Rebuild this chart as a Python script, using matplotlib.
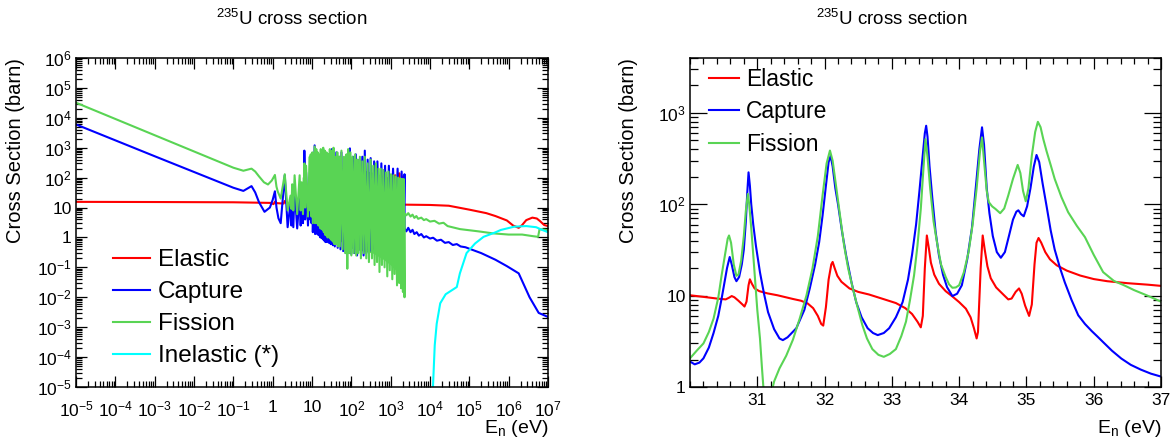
import numpy as np
import matplotlib
matplotlib.use("Agg")
import matplotlib.pyplot as plt
from matplotlib.ticker import LogLocator, FuncFormatter, NullFormatter, MultipleLocator, FixedLocator

plt.rcParams["font.family"] = ["Liberation Sans", "DejaVu Sans"]
plt.rcParams["mathtext.fontset"] = "custom"
plt.rcParams["mathtext.rm"] = "Liberation Sans"
plt.rcParams["mathtext.it"] = "Liberation Sans:italic"
plt.rcParams["mathtext.bf"] = "Liberation Sans:bold"

RED, BLUE, GREEN, CYAN = "#ff0000", "#0000ff", "#59d454", "#00ffff"

# ---- full range, (E [eV], sigma [barn]) ----
elastic_wide = [
    (1e-5, 15.5), (1e-3, 15.3), (0.1, 15.0), (0.9, 14.3), (1.05, 13.0), (1.14, 15.5),
    (1.3, 14.0), (1.9, 13.6), (2.03, 16.5), (2.3, 13.4), (3.4, 13.2), (3.61, 15.5),
    (3.9, 13.1), (6.2, 12.8), (6.39, 19.0), (6.8, 12.7), (9.1, 12.6), (9.28, 17.0),
    (9.6, 12.5), (30, 12.5), (100, 12.6), (300, 12.8), (1000, 12.8), (1250, 12.5),
    (1300, 120), (1350, 12.5), (1600, 12.5), (1650, 140), (1700, 12.5), (2000, 12.5),
    (2050, 110), (2100, 12.5), (2250, 12.5), (1e4, 12.2), (3e4, 11.5), (1e5, 8.5),
    (2.7e5, 6.5), (4.6e5, 5.2), (9e5, 3.7), (1.3e6, 2.5), (1.8e6, 2.1), (2.2e6, 2.6),
    (2.8e6, 3.8), (4e6, 4.6), (5.2e6, 4.3), (6.3e6, 3.5), (8e6, 2.6), (1e7, 2.4),
]

capture_wide = [
    # thermal + first resonances
    (1e-5, 6000), (1e-3, 520), (0.1, 46), (0.18, 36), (0.29, 52), (0.36, 32),
    (0.45, 15), (0.62, 7.2), (0.85, 10), (1.0, 18), (1.14, 35), (1.25, 10),
    (1.4, 4.4), (1.6, 3.0),
    # resolved resonances
    (2.03, 120), (2.4, 2.2), (2.84, 14), (3.0, 2.5), (3.14, 34), (3.35, 2.2),
    (3.61, 40), (4.2, 2.0), (4.85, 25), (5.15, 2.5), (5.45, 20), (5.9, 3.0),
    (6.21, 40), (6.3, 8.0), (6.39, 800), (6.7, 4.0), (7.08, 150), (7.9, 2.5),
    (8.78, 65), (9.0, 4.0), (9.28, 300), (9.7, 3.0),
    # dense resonance region
    (10.18, 100), (10.5, 1.5), (11.66, 1200), (12.0, 1.3), (12.39, 300), (12.6, 1.6),
    (12.85, 400), (13.1, 1.4), (13.3, 200), (13.6, 1.3), (14.0, 300), (14.6, 1.2),
    (15.4, 150), (15.8, 1.1), (16.1, 300), (16.4, 1.0), (16.7, 500), (17.3, 1.0),
    (18.05, 300), (18.6, 0.9), (19.3, 800), (20.0, 0.8), (20.6, 200), (20.9, 0.8),
    (21.1, 600), (22, 0.7), (23.4, 400), (24.3, 0.7), (26.5, 300), (27.4, 0.65),
    (28.4, 500), (30, 0.6), (32.1, 900), (34, 0.55), (35.2, 600), (38, 0.5),
    (41.6, 700), (45, 0.45), (49, 500), (53, 0.4), (56, 700), (62, 0.35),
    (66, 400), (72, 0.3), (80, 600), (88, 0.3), (92, 950), (100, 0.28),
    (110, 500), (120, 0.3), (130, 600), (140, 0.25), (160, 400), (175, 0.3),
    (190, 500), (205, 0.25), (220, 800), (240, 0.3), (260, 400), (290, 0.35),
    (310, 450), (340, 0.4), (380, 350), (420, 0.5), (460, 350), (520, 0.6),
    (580, 300), (650, 0.7), (720, 250), (800, 0.8), (900, 250), (1000, 0.9),
    (1150, 200), (1300, 1.0), (1500, 200), (1700, 1.0), (1900, 160), (2100, 1.1),
    (2250, 130),
    # unresolved + fast
    (2260, 2.0), (2500, 1.6), (2800, 2.1), (3200, 1.5), (3600, 1.8), (4000, 1.3),
    (4600, 1.5), (5200, 1.15), (6000, 1.3), (7000, 1.0), (8000, 1.1), (1e4, 0.92),
    (1.2e4, 0.98), (1.5e4, 0.78), (1.9e4, 0.84), (2.4e4, 0.66), (3e4, 0.7),
    (3.8e4, 0.56), (4.8e4, 0.6), (6e4, 0.5), (8e4, 0.47), (1e5, 0.42), (2e5, 0.3),
    (4.6e5, 0.18), (9e5, 0.11), (1.8e6, 0.063), (3.4e6, 0.01), (5.8e6, 0.003),
    (1e7, 0.0022),
]

fission_wide = [
    (1e-5, 32000), (1e-3, 2630), (0.1, 215), (0.18, 170), (0.29, 200), (0.36, 160),
    (0.45, 110), (0.6, 70), (0.76, 59), (0.95, 80), (1.14, 123), (1.25, 50),
    (1.35, 34), (1.6, 20),
    (2.03, 130), (2.4, 8), (2.84, 25), (3.0, 9), (3.14, 60), (3.35, 8),
    (3.61, 120), (4.2, 6), (4.85, 120), (5.15, 8), (5.45, 70), (5.9, 6),
    (6.21, 100), (6.3, 20), (6.39, 300), (6.7, 10), (7.08, 250), (7.9, 5),
    (8.78, 500), (9.0, 8), (9.28, 600), (9.7, 5),
    (10.18, 700), (10.5, 3), (11.66, 1100), (12.0, 3), (12.39, 500), (12.6, 4),
    (12.85, 900), (13.1, 3), (13.3, 400), (13.6, 3), (14.0, 700), (14.6, 2.5),
    (15.4, 400), (15.8, 2.5), (16.1, 600), (16.4, 2), (16.7, 900), (17.3, 2),
    (18.05, 600), (18.6, 1.8), (19.3, 1000), (20.0, 1.5), (20.6, 500), (20.9, 1.5),
    (21.1, 800), (22, 1.2), (22.9, 400), (23.1, 1.3), (23.4, 700), (24, 1.1),
    (24.3, 500), (25, 1), (26.5, 600), (27.4, 1), (28.4, 900), (29.6, 0.9),
    (30.9, 500), (31.6, 0.8), (32.1, 800), (33, 0.8), (34.4, 700), (35, 0.7),
    (35.2, 1000), (37, 0.6), (39.4, 500), (41, 0.6), (44, 700), (46, 0.5),
    (49, 500), (51, 0.5), (56, 800), (60, 0.4), (65, 500), (70, 0.3),
    (75, 600), (79, 0.09), (83, 900), (88, 0.3), (95, 700), (100, 0.25),
    (108, 500), (115, 0.3), (125, 600), (133, 0.25), (142, 400), (150, 0.3),
    (165, 500), (175, 0.2), (190, 350), (205, 0.3), (220, 500), (240, 0.2),
    (260, 300), (280, 0.15), (310, 400), (335, 0.2), (360, 250), (390, 0.12),
    (420, 300), (450, 0.15), (490, 200), (520, 0.07), (560, 200), (600, 0.12),
    (650, 180), (700, 0.1), (760, 150), (820, 0.05), (880, 160), (950, 0.08),
    (1020, 130), (1100, 0.04), (1180, 120), (1260, 0.06), (1350, 110), (1450, 0.025),
    (1550, 100), (1650, 0.03), (1750, 95), (1850, 0.02), (1950, 90), (2050, 0.015),
    (2150, 90), (2250, 0.01),
    (2260, 6.4), (2500, 5.5), (2800, 6.5), (3200, 5.0), (3600, 5.8), (4000, 4.5),
    (4500, 5.2), (5000, 4.2), (6000, 4.6), (7000, 3.8), (8000, 4.1), (1e4, 3.4),
    (1.3e4, 3.6), (1.7e4, 2.9), (2.2e4, 3.1), (2.8e4, 2.4), (5.8e4, 1.9),
    (1.7e5, 1.6), (4e5, 1.37), (1e6, 1.25), (2.2e6, 1.25), (4.2e6, 1.1),
    (5.6e6, 1.05), (6.1e6, 1.9), (1e7, 1.75),
]

# solid part of the fission resonance forest
fission_core_E = [10, 15, 20, 30, 50, 80, 120, 200, 350, 600, 1000, 1500, 2250]
fission_core_hi = [100, 150, 200, 200, 220, 220, 200, 180, 150, 120, 100, 95, 90]
fission_core_lo = [5, 3, 2, 1.2, 0.8, 0.5, 0.4, 0.35, 0.3, 0.2, 0.12, 0.07, 0.05]

inelastic_wide = [
    (1.17e4, 6e-6), (1.32e4, 2.5e-4), (1.48e4, 1.3e-3), (1.82e4, 6.3e-3), (2.5e4, 0.0126),
    (4.8e4, 0.022), (5.75e4, 0.063), (8.5e4, 0.3), (1.4e5, 0.63), (2.3e5, 1.05),
    (4.6e5, 1.48), (6.3e5, 1.78), (1.4e6, 2.3), (2.8e6, 2.4), (5e6, 2.2),
    (7e6, 1.8), (1e7, 1.5),
]

# ---- 30-37 eV zoom ----
elastic_zoom = [
    (30.0, 10.1), (30.2, 9.7), (30.4, 9.3), (30.53, 9.1), (30.58, 9.5), (30.62, 9.9),
    (30.66, 9.6), (30.72, 8.8), (30.78, 8.0), (30.81, 7.6), (30.84, 8.6), (30.87, 13),
    (30.89, 15.1), (30.92, 13.5), (30.96, 12.0), (31.03, 11.2), (31.15, 10.6), (31.3, 10.1),
    (31.53, 9.2), (31.65, 8.8), (31.75, 8.2), (31.83, 7.3), (31.9, 6.0), (31.95, 4.9),
    (31.98, 4.7), (32.02, 7.5), (32.06, 15), (32.1, 22), (32.12, 23.4), (32.15, 20),
    (32.19, 16.5), (32.25, 14.2), (32.37, 12), (32.5, 11), (32.66, 10.3), (32.85, 9.3),
    (33.06, 8.3), (33.2, 7.3), (33.3, 6.3), (33.38, 5.2), (33.43, 4.5), (33.46, 6),
    (33.49, 20), (33.52, 45.6), (33.55, 33), (33.58, 23), (33.63, 17), (33.7, 13.5),
    (33.8, 11.2), (33.9, 9.8), (34.0, 8.5), (34.1, 7.2), (34.17, 5.8), (34.22, 4.4),
    (34.26, 3.4), (34.28, 4), (34.32, 20), (34.35, 45.6), (34.38, 32), (34.42, 21),
    (34.47, 15.5), (34.55, 12.3), (34.65, 10.4), (34.73, 9.1), (34.78, 9.3), (34.84, 11),
    (34.89, 12), (34.93, 10.5), (34.98, 7.8), (35.04, 6.0), (35.08, 8), (35.12, 22),
    (35.15, 38), (35.18, 42.8), (35.22, 38), (35.28, 30), (35.35, 25), (35.45, 21.5),
    (35.6, 18.8), (35.8, 16.6), (36.0, 15.2), (36.2, 14.4), (36.5, 13.7), (36.8, 13.2),
    (37.0, 12.8),
]

capture_zoom = [
    (30.0, 1.9), (30.07, 1.77), (30.14, 1.85), (30.2, 2.06), (30.28, 2.7), (30.35, 3.9),
    (30.42, 6), (30.47, 9.3), (30.52, 15), (30.55, 20), (30.59, 26.5), (30.62, 22),
    (30.66, 16), (30.69, 14.4), (30.73, 16), (30.77, 22), (30.8, 32), (30.83, 65),
    (30.85, 130), (30.87, 224), (30.89, 160), (30.91, 100), (30.94, 60), (30.98, 35),
    (31.04, 18), (31.1, 10.5), (31.16, 6.6), (31.25, 4.3), (31.33, 3.4), (31.38, 3.26),
    (31.45, 3.5), (31.58, 4.4), (31.7, 7), (31.78, 12), (31.86, 22), (31.92, 38.7),
    (31.97, 75), (32.02, 160), (32.06, 290), (32.09, 340), (32.12, 260), (32.16, 150),
    (32.2, 100), (32.26, 50), (32.32, 27.6), (32.4, 14), (32.47, 8.5), (32.55, 5.8),
    (32.64, 4.4), (32.72, 3.9), (32.79, 3.7), (32.88, 3.9), (32.96, 4.4), (33.06, 5.8),
    (33.16, 8.5), (33.24, 15), (33.3, 28), (33.36, 60), (33.41, 140), (33.46, 350),
    (33.49, 600), (33.51, 725), (33.53, 550), (33.56, 260), (33.6, 120), (33.65, 50),
    (33.7, 27.6), (33.76, 17), (33.82, 12.4), (33.9, 9.9), (33.97, 10.5), (34.04, 13),
    (34.12, 25), (34.19, 55), (34.25, 160), (34.3, 400), (34.34, 697), (34.37, 450),
    (34.41, 150), (34.45, 80), (34.5, 45), (34.56, 30), (34.62, 26), (34.68, 30),
    (34.74, 45), (34.8, 68), (34.85, 83), (34.88, 86), (34.92, 78), (34.96, 74),
    (35.01, 95), (35.06, 150), (35.11, 260), (35.15, 347), (35.19, 290), (35.24, 170),
    (35.3, 95), (35.36, 52), (35.42, 32), (35.5, 20), (35.57, 14), (35.67, 9),
    (35.77, 6.1), (35.87, 4.9), (35.97, 4.1), (36.05, 3.6), (36.14, 3.1), (36.27, 2.5),
    (36.41, 2.05), (36.55, 1.75), (36.7, 1.55), (36.85, 1.4), (37.0, 1.3),
]

fission_zoom = [
    (30.0, 2.06), (30.1, 2.5), (30.2, 3.0), (30.28, 4.0), (30.35, 5.6), (30.42, 9.5),
    (30.47, 16.7), (30.52, 28), (30.56, 42), (30.58, 45.6), (30.61, 38), (30.65, 22),
    (30.69, 16.5), (30.72, 17), (30.76, 24), (30.8, 45), (30.83, 85), (30.86, 130),
    (30.88, 100), (30.91, 55), (30.94, 28), (30.97, 14), (31.0, 7), (31.04, 3.4),
    (31.07, 1.6), (31.1, 0.8), (31.15, 0.55), (31.2, 0.8), (31.25, 1.15), (31.33, 1.6),
    (31.43, 2.2), (31.53, 3.3), (31.63, 5.6), (31.73, 10), (31.82, 19.8), (31.9, 45),
    (31.97, 125), (32.03, 280), (32.08, 388), (32.12, 300), (32.17, 160), (32.22, 85),
    (32.29, 35.5), (32.35, 20), (32.42, 12), (32.49, 7.5), (32.56, 4.8), (32.63, 3.4),
    (32.71, 2.6), (32.8, 2.25), (32.88, 2.14), (32.97, 2.3), (33.06, 2.6), (33.14, 3.6),
    (33.21, 5.2), (33.27, 9), (33.33, 16.7), (33.38, 35), (33.43, 89), (33.47, 250),
    (33.5, 517), (33.53, 330), (33.57, 148), (33.62, 65), (33.67, 38.6), (33.73, 22),
    (33.8, 16), (33.85, 13.3), (33.9, 12.2), (33.95, 12.3), (34.0, 13), (34.07, 18),
    (34.14, 30), (34.2, 60), (34.26, 150), (34.31, 380), (34.34, 540), (34.37, 300),
    (34.41, 140), (34.44, 106), (34.49, 95), (34.54, 89), (34.61, 80), (34.67, 90),
    (34.73, 125), (34.8, 190), (34.87, 270), (34.91, 220), (34.95, 140), (34.99, 108),
    (35.03, 150), (35.08, 340), (35.13, 620), (35.17, 800), (35.21, 700), (35.25, 520),
    (35.3, 380), (35.36, 270), (35.42, 190), (35.52, 120), (35.62, 82), (35.75, 58),
    (35.87, 43.7), (36.0, 28), (36.14, 18.1), (36.3, 14.5), (36.45, 13), (36.6, 11.5),
    (36.8, 10), (37.0, 8.6),
]

# decade ticks shown on the axes
wide_x_decades = [10.0 ** k for k in range(-5, 8)]
wide_y_decades = [10.0 ** k for k in range(-5, 7)]
zoom_y_decades = [1, 10, 100, 1000]


def root_log_label(v, pos):
    k = int(round(np.log10(v)))
    if k == 0:
        return "1"
    if k == 1:
        return "10"
    return r"$10^{%d}$" % k


def style_axes(ax):
    ax.tick_params(which="both", direction="in", top=True, right=True,
                   labelsize=12.5, width=0.9)
    ax.tick_params(which="major", length=8)
    ax.tick_params(which="minor", length=4)
    for s in ax.spines.values():
        s.set_linewidth(1.1)


fig = plt.figure(figsize=(11.73, 4.40), dpi=100)
ax1 = fig.add_axes([76 / 1173, 53 / 440, 472 / 1173, 329 / 440])
ax2 = fig.add_axes([690 / 1173, 53 / 440, 471 / 1173, 329 / 440])

lw = 1.5

# left: whole energy range
h_el, = ax1.plot(*np.array(elastic_wide).T, color=RED, lw=lw, label="Elastic")
h_ca, = ax1.plot(*np.array(capture_wide).T, color=BLUE, lw=lw, label="Capture")
ax1.fill_between(fission_core_E, fission_core_lo, fission_core_hi, color=GREEN, lw=0)
h_fi, = ax1.plot(*np.array(fission_wide).T, color=GREEN, lw=lw, label="Fission")
h_in, = ax1.plot(*np.array(inelastic_wide).T, color=CYAN, lw=lw, label="Inelastic (*)")

ax1.set_xscale("log")
ax1.set_yscale("log")
ax1.set_xlim(1e-5, 1e7)
ax1.set_ylim(1e-5, 1e6)
ax1.xaxis.set_major_locator(FixedLocator(wide_x_decades))
ax1.xaxis.set_minor_locator(LogLocator(base=10, subs=range(2, 10), numticks=300))
ax1.yaxis.set_major_locator(FixedLocator(wide_y_decades))
ax1.yaxis.set_minor_locator(LogLocator(base=10, subs=range(2, 10), numticks=300))
for axis in (ax1.xaxis, ax1.yaxis):
    axis.set_major_formatter(FuncFormatter(root_log_label))
    axis.set_minor_formatter(NullFormatter())
style_axes(ax1)
ax1.tick_params(axis="x", pad=9)
ax1.tick_params(axis="y", pad=3)

ax1.legend(handles=[h_el, h_ca, h_fi, h_in], loc="center left",
           bbox_to_anchor=(0.078, 0.240), frameon=False, fontsize=17.5,
           handlelength=1.52, handletextpad=0.33, labelspacing=0.41,
           borderpad=0, borderaxespad=0)

# right: 30-37 eV resonances
r_el, = ax2.plot(*np.array(elastic_zoom).T, color=RED, lw=lw, label="Elastic")
r_ca, = ax2.plot(*np.array(capture_zoom).T, color=BLUE, lw=lw, label="Capture")
r_fi, = ax2.plot(*np.array(fission_zoom).T, color=GREEN, lw=lw, label="Fission")
ax2.set_yscale("log")
ax2.set_xlim(30, 37)
ax2.set_ylim(1, 4000)
ax2.xaxis.set_major_locator(FixedLocator([31, 32, 33, 34, 35, 36, 37]))
ax2.xaxis.set_minor_locator(MultipleLocator(0.2))
ax2.yaxis.set_major_locator(FixedLocator(zoom_y_decades))
ax2.yaxis.set_minor_locator(LogLocator(base=10, subs=range(2, 10), numticks=100))
ax2.yaxis.set_major_formatter(FuncFormatter(root_log_label))
ax2.yaxis.set_minor_formatter(NullFormatter())
style_axes(ax2)
ax2.tick_params(axis="y", which="major", length=12)
ax2.tick_params(axis="y", which="minor", length=6)
ax2.tick_params(axis="x", pad=4)
ax2.tick_params(axis="y", pad=3)

ax2.legend(handles=[r_el, r_ca, r_fi], loc="center left",
           bbox_to_anchor=(0.040, 0.836), frameon=False, fontsize=16.5,
           handlelength=1.31, handletextpad=0.31, labelspacing=0.41,
           borderpad=0, borderaxespad=0)

# axis titles, ROOT style (aligned to the axis ends)
for ax, ylab_x in ((ax1, -0.108), (ax2, -0.11)):
    ax.set_ylabel("Cross Section (barn)", fontsize=14.5, loc="top")
    ax.yaxis.set_label_coords(ylab_x, 1.0)
    ax.set_xlabel(r"E$_{\mathrm{n}}$ (eV)", fontsize=14, loc="right")
    ax.xaxis.set_label_coords(1.0, -0.094)

title = r"$^{235}$U cross section"
fig.text(292 / 1173, 1 - 25 / 440, title, ha="center", va="baseline", fontsize=13.5)
fig.text(892 / 1173, 1 - 25 / 440, title, ha="center", va="baseline", fontsize=13.5)

fig.savefig("out.png", dpi=100)
